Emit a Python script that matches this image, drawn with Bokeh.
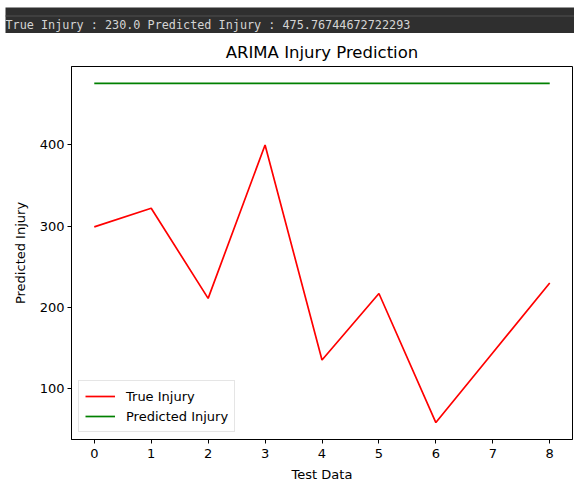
from bokeh.plotting import figure
from bokeh.layouts import column
from bokeh.models import Label, FixedTicker, Legend, LegendItem, ColumnDataSource, BoxAnnotation
from bokeh.embed import file_html
from bokeh.resources import INLINE

# ---- data ----
test_index = [0, 1, 2, 3, 4, 5, 6, 7, 8]
true_injury = [299, 322, 211, 400, 135, 217, 58, 144, 230]
predicted_injury = [475.76744672722293] * 9
x_ticks = [0, 1, 2, 3, 4, 5, 6, 7, 8]
y_ticks = [100, 200, 300, 400]
header_text = "True Injury : 230.0 Predicted Injury : 475.76744672722293"
title_text = "ARIMA Injury Prediction"

W = 574

# ---- header bar (notebook output line) ----
top = figure(width=W, height=33, output_backend="svg", toolbar_location=None,
             x_axis_type=None, y_axis_type=None, x_range=(0, W), y_range=(33, 0),
             min_border=0, background_fill_color="#ffffff", border_fill_color="#ffffff",
             outline_line_color=None)
top.frame_align = False
top.grid.visible = False
top.add_layout(BoxAnnotation(left=5, right=W, top=7, bottom=33,
                             fill_color="#2f2f2f", fill_alpha=1, line_color=None))
top.add_layout(BoxAnnotation(left=5, right=W, top=15, bottom=16,
                             fill_color="#505050", fill_alpha=1, line_color=None))
top.add_layout(Label(x=5, y=24, text=header_text,
                     text_font="DejaVu Sans Mono", text_font_size="11.8px",
                     text_color="#d4d4d4", text_baseline="middle"))

# ---- main chart ----
all_vals = true_injury + predicted_injury
ymin, ymax = min(all_vals), max(all_vals)
ypad = 0.05 * (ymax - ymin)
xmin, xmax = min(test_index), max(test_index)
xpad = 0.05 * (xmax - xmin)

p = figure(width=W, height=452, output_backend="svg", toolbar_location=None,
           x_range=(xmin - xpad, xmax + xpad), y_range=(ymin - ypad, ymax + ypad),
           min_border_left=71, min_border_right=2, min_border_top=33, min_border_bottom=46,
           title=title_text)
p.frame_align = False
p.title.align = "center"
p.title.text_font = "DejaVu Sans"
p.title.text_font_size = "16.5px"
p.title.text_font_style = "normal"
p.title.text_color = "#000000"
p.title.standoff = 9
p.grid.visible = False
p.outline_line_color = "#000000"
p.outline_line_width = 1

src = ColumnDataSource(dict(x=test_index, t=true_injury, pr=predicted_injury))
r_true = p.line("x", "t", source=src, line_color="#ff0000", line_width=1.7)
r_pred = p.line("x", "pr", source=src, line_color="#008000", line_width=1.7)

for ax in (p.xaxis[0], p.yaxis[0]):
    ax.axis_line_color = "#000000"
    ax.major_tick_line_color = "#000000"
    ax.minor_tick_line_color = None
    ax.major_tick_in = 0
    ax.major_tick_out = 4
    ax.major_label_text_font = "DejaVu Sans"
    ax.major_label_text_font_size = "13px"
    ax.major_label_text_color = "#000000"
    ax.axis_label_text_font = "DejaVu Sans"
    ax.axis_label_text_font_size = "13px"
    ax.axis_label_text_font_style = "normal"
    ax.axis_label_text_color = "#000000"

p.xaxis[0].ticker = FixedTicker(ticks=x_ticks)
p.yaxis[0].ticker = FixedTicker(ticks=y_ticks)
p.xaxis[0].axis_label = "Test Data"
p.yaxis[0].axis_label = "Predicted Injury"
p.xaxis[0].major_label_standoff = 5
p.xaxis[0].axis_label_standoff = 6
p.yaxis[0].major_label_standoff = 3
p.yaxis[0].axis_label_standoff = 9

legend = Legend(items=[LegendItem(label="True Injury", renderers=[r_true]),
                       LegendItem(label="Predicted Injury", renderers=[r_pred])],
                location="bottom_left", margin=7, padding=6, spacing=2,
                label_height=18, glyph_height=18, glyph_width=30, label_standoff=11,
                label_text_font="DejaVu Sans", label_text_font_size="13px",
                label_text_color="#000000",
                border_line_color="#cccccc", border_line_width=1,
                background_fill_alpha=0.8)
p.add_layout(legend)

layout = column(top, p, spacing=0)
open("out.html", "w").write(file_html(layout, INLINE))
